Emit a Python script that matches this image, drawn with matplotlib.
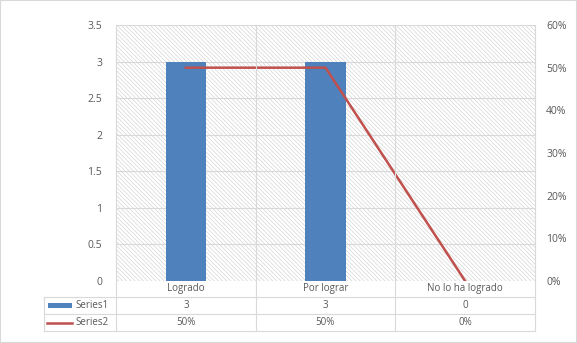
import matplotlib.pyplot as plt
from matplotlib.patches import Rectangle
from matplotlib.lines import Line2D

categories = ['Logrado', 'Por lograr', 'No lo ha logrado']
series1 = [3, 3, 0]
series2 = [0.5, 0.5, 0.0]
series1_labels = ['3', '3', '0']
series2_labels = ['50%', '50%', '0%']
left_ticks = [0, 0.5, 1, 1.5, 2, 2.5, 3, 3.5]
right_ticks = [0, 0.1, 0.2, 0.3, 0.4, 0.5, 0.6]

plt.rcParams['font.family'] = ['Open Sans', 'DejaVu Sans']
plt.rcParams['hatch.linewidth'] = 0.4

W, H = 577, 343
TXT = '#595959'
GRID = '#d9d9d9'
BLUE = '#4f81bd'
RED = '#c0504d'


def fx(px):
    return px / W


def fy(py):
    return 1 - py / H


fig = plt.figure(figsize=(W / 100, H / 100), dpi=100)
fig.patch.set_facecolor('white')
fig.patches.append(Rectangle((0, 0), 1, 1, transform=fig.transFigure,
                             fill=False, edgecolor='#d9d9d9', lw=1.5))

L, R, T, B = 116, 535, 25, 281
ax = fig.add_axes([fx(L), fy(B), fx(R) - fx(L), fy(T) - fy(B)])
ax.set_xlim(-0.5, 2.5)
ax.set_ylim(0, 3.5)

# hatched plot area
ax.add_patch(Rectangle((0, 0), 1, 1, transform=ax.transAxes, facecolor='white',
                       edgecolor='#cccccc', hatch='\\' * 8, lw=0, zorder=0))

for y in left_ticks:
    ax.axhline(y, color=GRID, lw=0.8, zorder=1)

x = list(range(len(categories)))
ax.bar(x, series1, width=0.29, color=BLUE, zorder=3)

ax.set_yticks(left_ticks)
ax.set_yticklabels([f'{v:g}' for v in left_ticks])
ax.set_xticks([])
ax.tick_params(axis='y', length=0, pad=10, labelsize=7.5, labelcolor=TXT)
for s in ax.spines.values():
    s.set_visible(False)

ax2 = ax.twinx()
ax2.set_ylim(0, 0.6)
ax2.plot(x, series2, color=RED, lw=1.8, zorder=4)
ax2.set_yticks(right_ticks)
ax2.set_yticklabels([f'{int(round(v * 100))}%' for v in right_ticks])
ax2.tick_params(axis='y', length=0, pad=8, labelsize=7.5, labelcolor=TXT)
for s in ax2.spines.values():
    s.set_visible(False)

# data table below the plot
cols = [L, 256, 395, R]
rows = [B, 297, 314, 331]


def hline(y, x0, x1):
    fig.add_artist(Line2D([fx(x0), fx(x1)], [fy(y), fy(y)], color=GRID, lw=0.8))


def vline(xp, y0, y1):
    fig.add_artist(Line2D([fx(xp), fx(xp)], [fy(y0), fy(y1)], color=GRID, lw=0.8))


for xp in cols:
    vline(xp, T, rows[-1])
vline(44, rows[1], rows[-1])
for y in rows[1:]:
    hline(y, 44, R)

centers = [(cols[i] + cols[i + 1]) / 2 for i in range(3)]
for i in range(3):
    fig.text(fx(centers[i]), fy((rows[0] + rows[1]) / 2), categories[i],
             ha='center', va='center', fontsize=7, color=TXT)
    fig.text(fx(centers[i]), fy((rows[1] + rows[2]) / 2), series1_labels[i],
             ha='center', va='center', fontsize=7, color=TXT)
    fig.text(fx(centers[i]), fy((rows[2] + rows[3]) / 2), series2_labels[i],
             ha='center', va='center', fontsize=7, color=TXT)

# legend keys in table
y1 = (rows[1] + rows[2]) / 2
y2 = (rows[2] + rows[3]) / 2
fig.patches.append(Rectangle((fx(48), fy(y1 + 2.5)), fx(72) - fx(48), fy(y1 - 2.5) - fy(y1 + 2.5),
                             transform=fig.transFigure, facecolor=BLUE, edgecolor='none'))
fig.add_artist(Line2D([fx(47), fx(72)], [fy(y2), fy(y2)], color=RED, lw=1.8))
fig.text(fx(75), fy(y1), 'Series1', ha='left', va='center', fontsize=7, color=TXT)
fig.text(fx(75), fy(y2), 'Series2', ha='left', va='center', fontsize=7, color=TXT)

fig.savefig('out.png', dpi=100)
